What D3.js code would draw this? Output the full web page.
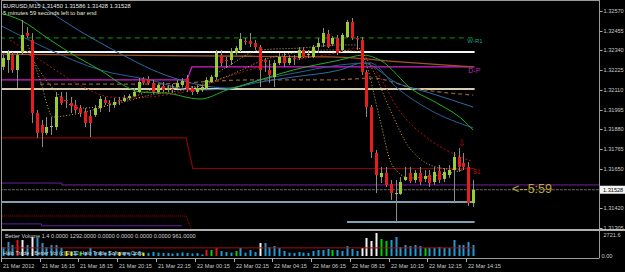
<!DOCTYPE html>
<html>
<head>
<meta charset="utf-8">
<script src="https://cdn.jsdelivr.net/npm/d3@7/dist/d3.min.js"></script>
<style>
  html, body { margin: 0; background: #000; overflow: hidden; }
  svg { display: block; }
  text { font-family: "Liberation Sans", Arial, sans-serif; }
</style>
</head>
<body>
<div id="chart"></div>
<script>
// EURUSD M15 candles, [open, high, low, close], 21 Mar 14:15 .. 22 Mar 14:30
const candles = [
  [1.32244,1.32313,1.32226,1.32296],[1.32284,1.32343,1.32209,1.32325],[1.32313,1.32331,1.32209,1.32226],
  [1.32226,1.32325,1.32121,1.32313],[1.32331,1.32518,1.32313,1.32430],[1.32442,1.32477,1.32413,1.32424],
  [1.32401,1.32442,1.31917,1.31975],[1.31975,1.31993,1.31830,1.31859],[1.31906,1.31935,1.31777,1.31859],
  [1.31859,1.31952,1.31847,1.31894],[1.31894,1.31952,1.31847,1.31900],[1.31894,1.32098,1.31876,1.32069],
  [1.32069,1.32098,1.32022,1.32034],[1.32051,1.32098,1.32004,1.32045],[1.32034,1.32069,1.31975,1.32016],
  [1.32022,1.32051,1.31975,1.31993],[1.32004,1.32022,1.31952,1.31975],[1.31981,1.32004,1.31894,1.31917],
  [1.31958,1.31993,1.31835,1.31917],[1.31964,1.32022,1.31952,1.32004],[1.32004,1.32074,1.31981,1.32057],
  [1.32051,1.32069,1.32022,1.32034],[1.32034,1.32051,1.31981,1.32028],[1.32022,1.32063,1.32004,1.32040],
  [1.32051,1.32069,1.32022,1.32045],[1.32045,1.32080,1.32040,1.32063],[1.32063,1.32086,1.32051,1.32074],
  [1.32074,1.32121,1.32069,1.32098],[1.32098,1.32179,1.32092,1.32156],[1.32174,1.32185,1.32139,1.32150],
  [1.32174,1.32191,1.32139,1.32150],[1.32150,1.32168,1.32086,1.32098],[1.32098,1.32150,1.32086,1.32139],
  [1.32133,1.32156,1.32098,1.32109],[1.32109,1.32139,1.32098,1.32121],[1.32115,1.32144,1.32092,1.32112],
  [1.32127,1.32168,1.32121,1.32150],[1.32139,1.32179,1.32127,1.32162],[1.32179,1.32197,1.32098,1.32109],
  [1.32121,1.32133,1.32080,1.32098],[1.32098,1.32139,1.32086,1.32121],[1.32109,1.32139,1.32098,1.32127],
  [1.32121,1.32185,1.32109,1.32168],[1.32156,1.32197,1.32150,1.32185],[1.32185,1.32343,1.32168,1.32325],
  [1.32313,1.32343,1.32249,1.32267],[1.32284,1.32302,1.32238,1.32279],[1.32284,1.32354,1.32255,1.32337],
  [1.32325,1.32366,1.32313,1.32354],[1.32343,1.32442,1.32331,1.32407],[1.32395,1.32413,1.32372,1.32390],
  [1.32395,1.32442,1.32360,1.32378],[1.32383,1.32401,1.32343,1.32360],[1.32360,1.32372,1.32127,1.32226],
  [1.32284,1.32296,1.32214,1.32273],[1.32226,1.32284,1.32150,1.32197],[1.32185,1.32284,1.32127,1.32267],
  [1.32267,1.32325,1.32255,1.32302],[1.32302,1.32325,1.32244,1.32267],[1.32267,1.32313,1.32255,1.32296],
  [1.32296,1.32313,1.32255,1.32290],[1.32296,1.32360,1.32284,1.32343],[1.32343,1.32360,1.32296,1.32302],
  [1.32313,1.32343,1.32296,1.32319],[1.32302,1.32372,1.32296,1.32360],[1.32360,1.32413,1.32325,1.32383],
  [1.32383,1.32471,1.32360,1.32442],[1.32436,1.32459,1.32354,1.32360],[1.32378,1.32424,1.32366,1.32413],
  [1.32413,1.32430,1.32313,1.32325],[1.32343,1.32442,1.32331,1.32430],[1.32418,1.32518,1.32413,1.32506],
  [1.32506,1.32529,1.32401,1.32413],[1.32413,1.32424,1.32343,1.32404],[1.32401,1.32418,1.32197,1.32214],
  [1.32214,1.32226,1.31952,1.32010],[1.32010,1.32022,1.31713,1.31748],[1.31742,1.31760,1.31509,1.31614],
  [1.31602,1.31661,1.31567,1.31626],[1.31626,1.31661,1.31544,1.31556],[1.31562,1.31585,1.31468,1.31509],
  [1.31504,1.31585,1.31340,1.31509],[1.31504,1.31602,1.31498,1.31573],[1.31585,1.31661,1.31579,1.31602],
  [1.31626,1.31661,1.31567,1.31579],[1.31585,1.31643,1.31567,1.31626],[1.31626,1.31661,1.31556,1.31573],
  [1.31591,1.31643,1.31573,1.31608],[1.31614,1.31643,1.31544,1.31567],[1.31573,1.31661,1.31556,1.31632],
  [1.31637,1.31672,1.31567,1.31585],[1.31591,1.31655,1.31573,1.31632],[1.31614,1.31672,1.31597,1.31643],
  [1.31643,1.31748,1.31457,1.31719],[1.31719,1.31771,1.31632,1.31661],[1.31684,1.31742,1.31643,1.31661],
  [1.31661,1.31690,1.31434,1.31451],[1.31450,1.31586,1.31428,1.31528]
];

// Better Volume histogram and bar type (N normal, R climax, W churn, G low churn, Y low)
const volumes = [
  1060,1660,1300,1890,1890,1300,2250,2130,1540,1060,1300,1300,950,590,470,590,470,470,950,470,
  590,355,590,400,470,470,400,470,590,400,355,470,400,355,350,300,350,420,350,300,
  350,180,710,710,950,590,470,400,590,950,400,710,470,1540,1540,1060,1180,950,590,400,
  355,470,400,355,590,710,710,830,710,710,590,1180,830,590,950,2130,1775,2721.6,2010,1775,
  1893,2248,1065,1300,1180,1300,1180,950,950,950,1065,950,950,1893,1300,1300,1656,1292
];
const volumeTypes = (
  "NNNRWNWNNNNNNYYNGNNNNNNNYNNNNYNNNNNNNNNN" +
  "NNRGRNNNGNNNNWNNNNNNNNNNNNNNGNNNNNWWWWGG" +
  "NNNNNNNGNNNNNNNNNN").split("");
const volumeAvg = 961;
const volumeMax = 2721.6;

// moving averages, [bar, price]
const maGreen = [[-0.5,1.32558],[3.6,1.32518],[9.8,1.32401],[15.3,1.32302],[20.1,1.32226],[24.8,1.32139],
  [28.3,1.32098],[33.5,1.32092],[40.7,1.32057],[46.2,1.32109],[53,1.32168],[59.9,1.32226],[69.5,1.32284],
  [74.3,1.32313],[77.8,1.32284],[84.6,1.32109],[89.5,1.32034],[94.9,1.31935],[97,1.31876]];
const maBlue1 = [[6.25,1.32634],[13.9,1.32488],[22.1,1.32354],[33.5,1.32197],[40.7,1.32139],[46.2,1.32121],
  [53.05,1.32156],[59.9,1.32185],[69.5,1.32226],[74.3,1.32267],[81.3,1.32150],[88.1,1.32092],[97,1.32010]];
const maBlue2 = [[-0.6,1.32488],[9.75,1.32343],[20.1,1.32226],[30.4,1.32168],[39.2,1.32109],[46.2,1.32115],
  [53.05,1.32168],[61.3,1.32214],[69.5,1.32255],[75.7,1.32267],[81.3,1.32121],[88.1,1.31993],[97,1.31888]];
const maBrown = [[-0.6,1.32319],[20.1,1.32313],[40.7,1.32308],[67.5,1.32302],[81.9,1.32273],[97,1.32244]];
const maBrownDash = [[7.7,1.32144],[30.4,1.32144],[51,1.32168],[67.5,1.32168],[76.3,1.32179],[84.6,1.32121],[97,1.32080]];
const maRed = [[1.5,1.32401],[7.7,1.32284],[11.8,1.32209],[16.6,1.32127],[22.1,1.32069],[26.9,1.32063],
  [33.5,1.32080],[39.2,1.32109],[46.2,1.32185],[53.05,1.32244],[59.9,1.32284],[69.5,1.32331],[72.6,1.32354],
  [74.7,1.32313],[77.8,1.32185],[81.3,1.32010],[88.1,1.31818],[92.2,1.31748],[97,1.31690]];
const maYellow1 = [[5.2,1.32372],[7.7,1.32168],[10.4,1.31952],[13.9,1.31964],[18.6,1.31993],[26.9,1.32069],
  [33.5,1.32127],[39.2,1.32127],[46.2,1.32244],[53.05,1.32343],[61.3,1.32354],[69.5,1.32372],[72.6,1.32372],
  [74.7,1.32284],[77.8,1.31935],[80.3,1.31672],[83.9,1.31597],[90.2,1.31614],[94.9,1.31643]];
const maYellow2 = [[5.6,1.32313],[9.75,1.32139],[15.9,1.32004],[22.1,1.32022],[30.4,1.32080],[39.2,1.32121],
  [46.9,1.32197],[55.1,1.32296],[67.5,1.32343],[73.7,1.32331],[76.3,1.32226],[79.9,1.31993],[83.9,1.31771],
  [90.2,1.31655],[94.9,1.31643]];

// pivot levels, [bar, price]
const weeklyR1 = [[-0.6,1.32413],[97.3,1.32413]];
const whiteLevel = [[-0.6,1.32331],[97.3,1.32331]];
const tanLevel = [[-0.6,1.32115],[97.3,1.32115]];
const dailyPivot = [[-0.6,1.32168],[38,1.32168],[39,1.32244],[97.3,1.32244]];
const dailyS1 = [[-0.6,1.31830],[37.8,1.31830],[39.2,1.31652],[97.3,1.31652]];
const dailyS2 = [[-0.6,1.31375],[37.8,1.31375],[39,1.31290]];
const purpleLevel = [[-0.6,1.31567],[12.2,1.31567],[12.2,1.31556],[123,1.31556]];
const purpleLow = [[-0.6,1.31329],[8,1.31329],[8,1.31318],[37,1.31318]];
const blueLevel = [[-0.6,1.31457],[97.3,1.31457]];
const blueLow = [[71,1.31340],[97.3,1.31340]];
const bidPrice = 1.31528;

const priceTicks = [1.32570,1.32455,1.32340,1.32225,1.32110,1.31995,1.31880,1.31765,1.31650,1.31420,1.31305];
const timeTickBars = [0,8,16,24,32,40,48,56,64,72,80,88,96];
const timeLabels = ["21 Mar 2012","21 Mar 16:15","21 Mar 18:15","21 Mar 20:15","21 Mar 22:15",
  "22 Mar 00:15","22 Mar 02:15","22 Mar 04:15","22 Mar 06:15","22 Mar 08:15","22 Mar 10:15",
  "22 Mar 12:15","22 Mar 14:15"];

const W = 625, H = 272;
const axisX = 599.5;
const mainTop = 1, mainBottom = 229;
const volTop = 232, volBottom = 256;

const x = d3.scaleLinear().domain([0, 97]).range([2.7, 2.7 + 4.85 * 97]);
const y = d3.scaleLinear().domain([1.31305, 1.32570]).range([228, 11]);
const yv = d3.scaleLinear().domain([0, volumeMax]).range([volBottom, 233]);

const svg = d3.select("#chart").append("svg").attr("width", W).attr("height", H);
svg.append("rect").attr("width", W).attr("height", H).attr("fill", "#000");

const defs = svg.append("defs");
defs.append("clipPath").attr("id", "mainClip")
  .append("rect").attr("x", 2).attr("y", mainTop + 0.5).attr("width", axisX - 2).attr("height", mainBottom - mainTop - 0.5);

const main = svg.append("g").attr("clip-path", "url(#mainClip)");
const line = d3.line().x(d => x(d[0])).y(d => y(d[1]));
const smooth = d3.line().x(d => x(d[0])).y(d => y(d[1])).curve(d3.curveMonotoneX);

function drawPath(g, pts, gen, color, width, dash) {
  g.append("path").datum(pts).attr("d", gen).attr("fill", "none")
    .attr("stroke", color).attr("stroke-width", width)
    .attr("stroke-dasharray", dash || null);
}

// levels
drawPath(main, whiteLevel, line, "#f4f4f4", 2.2);
drawPath(main, tanLevel, line, "#d8ccb0", 2);
drawPath(main, weeklyR1, line, "#00a000", 1, "5,4");
drawPath(main, dailyPivot, line, "#d020d0", 1.2);
drawPath(main, dailyS1, line, "#900000", 1.2);
drawPath(main, dailyS2, line, "#c00000", 1, "1,1");
drawPath(main, purpleLevel, line, "#7020a0", 1);
drawPath(main, purpleLow, line, "#6020a0", 1);
drawPath(main, blueLevel, line, "#a8d8f0", 1.5);
drawPath(main, blueLow, line, "#a8d8f0", 1.5);
drawPath(main, [[-0.6, bidPrice], [123, bidPrice]], line, "#6a6a6a", 1, "3,1");

// moving averages
drawPath(main, maBrown, smooth, "#a0522d", 1.3);
drawPath(main, maBrownDash, smooth, "#8b5a3c", 1.3, "4,3");
drawPath(main, maBlue1, smooth, "#2d6ca8", 1);
drawPath(main, maBlue2, smooth, "#2a5f98", 1);
drawPath(main, maGreen, smooth, "#22b022", 1);
drawPath(main, maRed, smooth, "#b01010", 1, "2,2");
drawPath(main, maYellow1, smooth, "#c8b450", 1, "1,2");
drawPath(main, maYellow2, smooth, "#c89a48", 1, "1,2");

// candles
const cg = main.append("g");
cg.selectAll("line.wick").data(candles).join("line")
  .attr("x1", (d, i) => Math.round(x(i)) + 0.5).attr("x2", (d, i) => Math.round(x(i)) + 0.5)
  .attr("y1", d => y(d[1])).attr("y2", d => y(d[2]))
  .attr("stroke", "#8a8a8a").attr("stroke-width", 1);
cg.selectAll("rect.body").data(candles).join("rect")
  .attr("x", (d, i) => Math.round(x(i)) - 1)
  .attr("y", d => y(Math.max(d[0], d[3])))
  .attr("width", 3)
  .attr("height", d => Math.max(1, Math.abs(y(d[0]) - y(d[3]))))
  .attr("fill", d => d[3] > d[0] + 0.00002 ? "#9acd32" : d[3] < d[0] - 0.00002 ? "#e81c1c" : "#b0b0b0");

// level labels and markers
main.append("text").attr("x", x(95.8)).attr("y", y(1.32413) + 5.5).attr("fill", "#20a080")
  .style("font-size", "6px").text("W-R1");
main.append("text").attr("x", x(96)).attr("y", y(1.32244) + 6).attr("fill", "#c020c0")
  .style("font-size", "7px").text("D-P");
main.append("text").attr("x", x(96.9)).attr("y", y(1.31652) + 5.5).attr("fill", "#c01010")
  .style("font-size", "6.5px").text("S1");
main.append("text").attr("x", x(94.8)).attr("y", y(candles[94][1]) - 2).attr("fill", "#b01010")
  .attr("text-anchor", "middle").style("font-size", "9px").text("⇩");

// countdown
svg.append("text").attr("x", 512).attr("y", 192.5).attr("fill", "#c0a838")
  .style("font-size", "12.5px").text("<--5:59");

// title
svg.append("text").attr("x", 3).attr("y", 8).attr("fill", "#e8e8e8").style("font-size", "5.8px")
  .text("EURUSD,M15  1.31450 1.31586 1.31428 1.31528");
svg.append("text").attr("x", 3).attr("y", 15).attr("fill", "#e8e8d0").style("font-size", "5.8px")
  .text("5 minutes 59 seconds left to bar end");

// volume panel
const vg = svg.append("g");
const volColor = { N: "#1e9ad6", R: "#e01818", W: "#f2f2f2", G: "#00d000", Y: "#e8e800" };
vg.selectAll("rect").data(volumes).join("rect")
  .attr("x", (d, i) => Math.round(x(i)) - 0.5)
  .attr("y", d => yv(d))
  .attr("width", 2)
  .attr("height", d => volBottom - yv(d))
  .attr("fill", (d, i) => volColor[volumeTypes[i]]);
vg.append("line").attr("x1", 2).attr("x2", x(97.3)).attr("y1", yv(volumeAvg)).attr("y2", yv(volumeAvg))
  .attr("stroke", "#a01010").attr("stroke-width", 1);
svg.append("text").attr("x", 5).attr("y", 237.5).attr("fill", "#d0d0d0").style("font-size", "5.6px")
  .text("Better Volume 1.4 0.0000 1292.0000 0.0000 0.0000 0.0000 0.0000 961.0000");
svg.append("text").attr("x", 3).attr("y", 254.5).attr("fill", "#d8d8d8").style("font-size", "5.4px")
  .text("Halo Trade - Better Vol (c) 2012 Halo Trade Software Corp.");

// frame
const frame = svg.append("g").attr("stroke", "#9a9a9a").attr("fill", "none");
frame.append("line").attr("x1", 1).attr("x2", axisX).attr("y1", 0.5).attr("y2", 0.5);
frame.append("line").attr("x1", 1.5).attr("x2", 1.5).attr("y1", 0).attr("y2", 258);
frame.append("line").attr("x1", axisX).attr("x2", axisX).attr("y1", 0).attr("y2", 258);
frame.append("line").attr("x1", 1).attr("x2", W).attr("y1", 230).attr("y2", 230).attr("stroke-width", 2).attr("stroke", "#b0b0b0");
frame.append("line").attr("x1", 1).attr("x2", axisX).attr("y1", 258.5).attr("y2", 258.5);

// price axis
const pa = svg.append("g");
priceTicks.forEach(p => {
  pa.append("line").attr("x1", axisX).attr("x2", axisX + 3).attr("y1", Math.round(y(p)) + 0.5)
    .attr("y2", Math.round(y(p)) + 0.5).attr("stroke", "#b0b0b0");
  pa.append("text").attr("x", 603.5).attr("y", y(p) + 2).attr("fill", "#c8c8c8")
    .style("font-size", "5.6px").text(p.toFixed(5));
});
pa.append("rect").attr("x", axisX + 0.5).attr("y", y(bidPrice) - 4).attr("width", W - axisX).attr("height", 8)
  .attr("fill", "#f4f4f4");
pa.append("text").attr("x", 603).attr("y", y(bidPrice) + 2).attr("fill", "#000")
  .style("font-size", "5.6px").text(bidPrice.toFixed(5));
pa.append("text").attr("x", 603.5).attr("y", 237).attr("fill", "#c8c8c8").style("font-size", "5.6px").text("2721.6");
pa.append("text").attr("x", 601.5).attr("y", 257.5).attr("fill", "#c8c8c8").style("font-size", "5.6px").text("0.00");

// time axis
const ta = svg.append("g");
timeTickBars.forEach((b, k) => {
  const tx = Math.round(x(b)) - 1.5;
  ta.append("line").attr("x1", tx).attr("x2", tx).attr("y1", 258).attr("y2", 262).attr("stroke", "#b0b0b0");
  ta.append("text").attr("x", tx + 1.5).attr("y", 267.5).attr("fill", "#c8c8c8")
    .style("font-size", "5.6px").text(timeLabels[k]);
});
</script>
</body>
</html>
